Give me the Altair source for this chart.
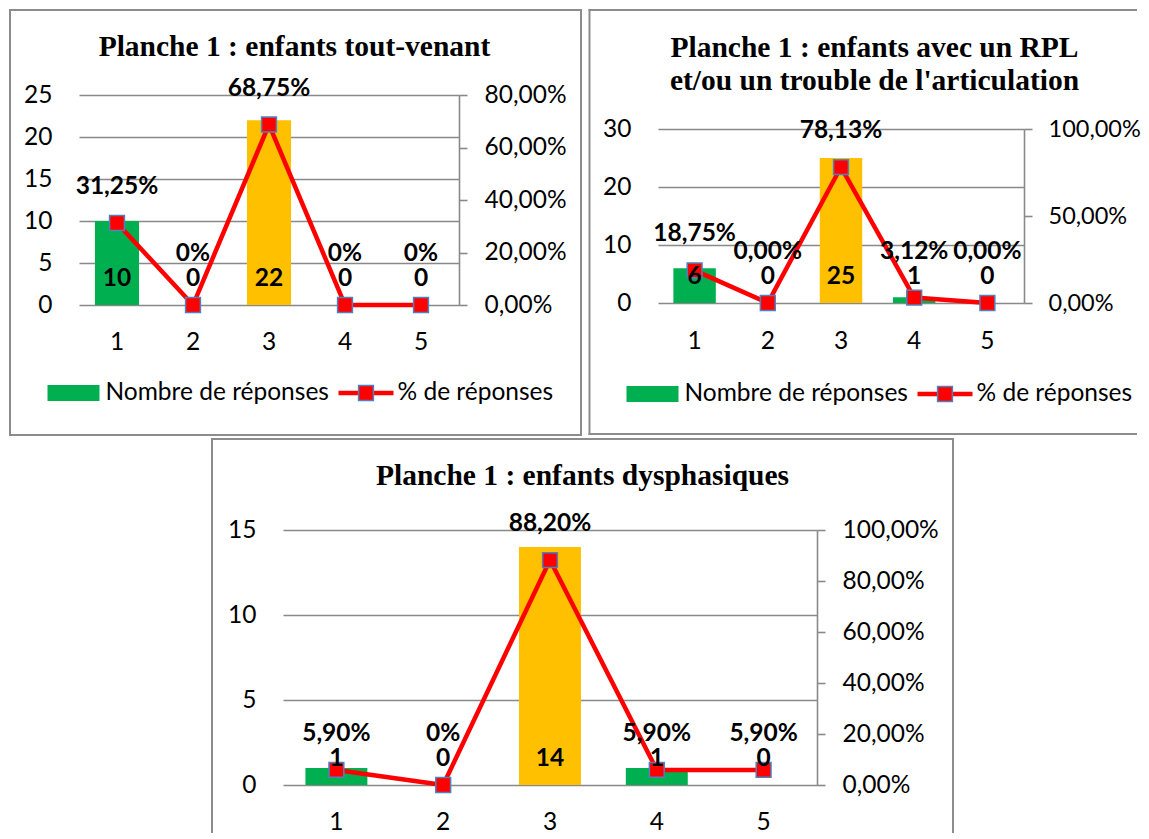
import altair as alt
import pandas as pd

categories = [1, 2, 3, 4, 5]

p1_title = "Planche 1 : enfants tout-venant"
p1_counts = [10, 0, 22, 0, 0]
p1_pcts = [0.3125, 0.0, 0.6875, 0.0, 0.0]
p1_pct_labels = ["31,25%", "0%", "68,75%", "0%", "0%"]
p1_count_ticks = [0, 5, 10, 15, 20, 25]
p1_pct_ticks = [0, 0.2, 0.4, 0.6, 0.8]

p2_title = ["Planche 1 : enfants avec un RPL", "et/ou un trouble de l'articulation"]
p2_counts = [6, 0, 25, 1, 0]
p2_pcts = [0.1875, 0.0, 0.7813, 0.0312, 0.0]
p2_pct_labels = ["18,75%", "0,00%", "78,13%", "3,12%", "0,00%"]
p2_count_ticks = [0, 10, 20, 30]
p2_pct_ticks = [0, 0.5, 1.0]

p3_title = "Planche 1 : enfants dysphasiques"
p3_counts = [1, 0, 14, 1, 0]
p3_pcts = [0.059, 0.0, 0.882, 0.059, 0.059]
p3_pct_labels = ["5,90%", "0%", "88,20%", "5,90%", "5,90%"]
p3_count_ticks = [0, 5, 10, 15]
p3_pct_ticks = [0, 0.2, 0.4, 0.6, 0.8, 1.0]

legend_labels = ["Nombre de réponses", "% de réponses"]

GREEN = "#00B050"
ORANGE = "#FFC000"
RED = "#FF0000"
BLUE = "#4F81BD"
GRID = "#898989"
BORDER = "#8C8C8C"
SANS = "Lato"
SERIF = "Liberation Serif"
FS = 24.5


def panel(title, counts, pcts, pct_labels, count_ticks, pct_ticks, W, H,
          yrange, label_floor, border, sides, title_x, title_y,
          legend_x=None, legend_y=None, rfs=FS, rpad=17):
    df = pd.DataFrame({"cat": categories, "count": counts, "pct": pcts,
                       "pct_label": pct_labels})
    one = pd.DataFrame({"k": [0]})

    x = alt.X("cat:O", scale=alt.Scale(paddingInner=0, paddingOuter=0),
              axis=alt.Axis(title=None, domain=False, ticks=False, labelAngle=0,
                            labelFont=SANS, labelFontSize=FS, labelColor="black",
                            labelPadding=25, grid=False))

    def cscale():
        return alt.Scale(domain=[count_ticks[0], count_ticks[-1]], range=yrange, nice=False)

    def pscale():
        return alt.Scale(domain=[pct_ticks[0], pct_ticks[-1]], range=yrange, nice=False)

    # panel frame drawn as thin filled rectangles (no stroke)
    bx0, bx1, by0, by1 = border
    layers = []
    segs = {
        "top": (bx0 - 1, bx1 + 1, by0 - 1, by0 + 1),
        "bottom": (bx0 - 1, bx1 + 1, by1 - 1, by1 + 1),
        "left": (bx0 - 1, bx0 + 1, by0 - 1, by1 + 1),
        "right": (bx1 - 1, bx1 + 1, by0 - 1, by1 + 1),
    }
    for s in sides:
        a, b, c, d = segs[s]
        layers.append(alt.Chart(one).mark_rect(color=BORDER).encode(
            x=alt.value(a), x2=alt.value(b), y=alt.value(c), y2=alt.value(d)))

    layers.append(alt.Chart(one).mark_text(font=SERIF, fontSize=29.5, fontWeight="bold",
                                           lineHeight=33, baseline="middle",
                                           color="black").encode(
        x=alt.value(title_x), y=alt.value(title_y), text=alt.value(title)))

    if legend_x is not None:
        lx = legend_x
        layers += [
            alt.Chart(one).mark_rect(color=GREEN).encode(
                x=alt.value(lx), x2=alt.value(lx + 52),
                y=alt.value(legend_y - 8), y2=alt.value(legend_y + 8)),
            alt.Chart(one).mark_rule(color=RED, strokeWidth=4.5).encode(
                x=alt.value(lx + 291), x2=alt.value(lx + 346), y=alt.value(legend_y)),
            alt.Chart(one).mark_square(size=220, fill=RED, stroke=BLUE, strokeWidth=1.5,
                                       opacity=1).encode(
                x=alt.value(lx + 318.5), y=alt.value(legend_y)),
            alt.Chart(one).mark_text(align="left", baseline="middle", font=SANS,
                                     fontSize=FS, color="black").encode(
                x=alt.value(lx + 58), y=alt.value(legend_y), text=alt.value(legend_labels[0])),
            alt.Chart(one).mark_text(align="left", baseline="middle", font=SANS,
                                     fontSize=FS, color="black").encode(
                x=alt.value(lx + 350), y=alt.value(legend_y), text=alt.value(legend_labels[1])),
        ]

    bars = alt.Chart(df).mark_bar(width=alt.RelativeBandSize(0.58)).encode(
        x=x,
        y=alt.Y("count:Q", scale=cscale(),
                axis=alt.Axis(orient="left", values=count_ticks, title=None,
                              grid=True, gridColor=GRID, gridWidth=1.6,
                              domain=False, ticks=False, labelFont=SANS,
                              labelFontSize=FS, labelColor="black", labelPadding=27)),
        color=alt.condition(alt.datum.cat == 3, alt.value(ORANGE), alt.value(GREEN)),
    )

    line = alt.Chart(df).mark_line(color=RED, strokeWidth=4.5).encode(
        x=x,
        y=alt.Y("pct:Q", scale=pscale(),
                axis=alt.Axis(orient="right", values=pct_ticks, title=None, grid=False,
                              labelExpr="replace(format(datum.value, '.2%'), '.', ',')",
                              domain=True, domainColor=GRID, domainWidth=1.6,
                              ticks=True, tickSize=8, tickColor=GRID, tickWidth=1.6,
                              labelFont=SANS, labelFontSize=rfs, labelColor="black",
                              labelPadding=rpad)))
    pts = alt.Chart(df).mark_square(size=220, fill=RED, stroke=BLUE, strokeWidth=1.5,
                                    opacity=1).encode(
        x=x, y=alt.Y("pct:Q", scale=pscale(), axis=None))
    ctext = alt.Chart(df).transform_calculate(zero="0").mark_text(
        font=SANS, fontSize=FS, fontWeight="bold", dy=-26, baseline="middle",
        color="black").encode(
        x=x, y=alt.Y("zero:Q", scale=pscale(), axis=None), text="count:Q")
    ptext = alt.Chart(df).transform_calculate(ly=f"max(datum.pct, {label_floor})").mark_text(
        font=SANS, fontSize=FS, fontWeight="bold", dy=-36, baseline="middle",
        color="black").encode(
        x=x, y=alt.Y("ly:Q", scale=pscale(), axis=None), text="pct_label:N")

    return alt.layer(*layers, bars, line, pts, ctext, ptext).resolve_scale(
        y="independent").properties(width=W, height=H)


p1 = panel(p1_title, p1_counts, p1_pcts, p1_pct_labels, p1_count_ticks, p1_pct_ticks,
           380, 210, [210, 0], 0.058, (-69, 502, -85, 340),
           ["top", "bottom", "left", "right"], 215.5, -48, -31.5, 298)
p2 = panel(p2_title, p2_counts, p2_pcts, p2_pct_labels, p2_count_ticks, p2_pct_ticks,
           366, 209, [208, 34], 0.087, (-68.5, 478, -85, 339),
           ["top", "bottom", "left"], 216.5, -47.5, -31.5, 299, rfs=23.5, rpad=16)
p3 = panel(p3_title, p3_counts, p3_pcts, p3_pct_labels, p3_count_ticks, p3_pct_ticks,
           534, 255, [255, 0], 0.06, (-71, 670, -91, 302),
           ["top", "left", "right"], 299.5, -54)

spacer = alt.Chart(pd.DataFrame({"k": [0]})).mark_text(text="").encode(
    x=alt.value(0), y=alt.value(0)).properties(width=1, height=1)

row = alt.hconcat(p1, p2, spacing=5)
bottom = alt.hconcat(spacer, p3, spacing=129)
chart = alt.vconcat(row, bottom, spacing=0).properties(padding=0).configure_view(
    stroke="transparent")

chart.save("out.html", embed_options={"renderer": "svg", "actions": False})
